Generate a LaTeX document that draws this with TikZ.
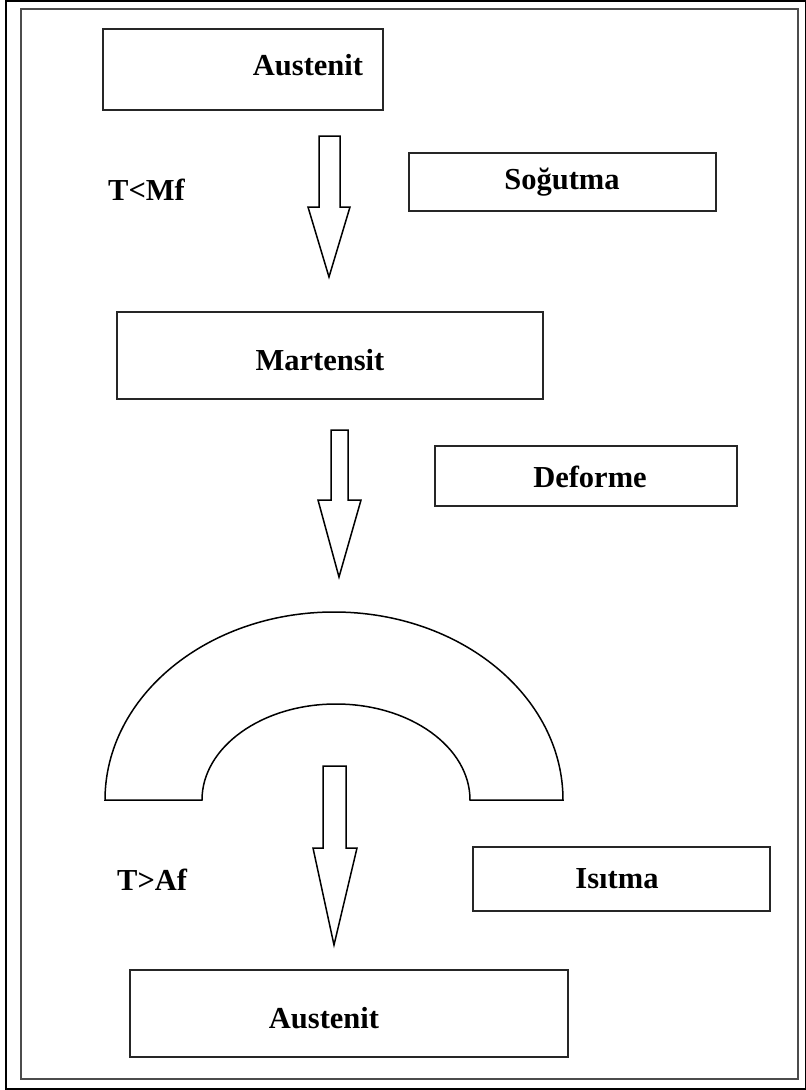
\documentclass[tikz,border=0pt]{standalone}
\usepackage{fontspec}
\setmainfont{Liberation Serif}
\begin{document}
\begin{tikzpicture}[x=1pt,y=-1pt]
\tikzset{
 boxn/.style={draw=black!85, line width=2pt, inner sep=0pt},
 lbl/.style={font=\fontsize{30.5}{36}\selectfont\bfseries, inner sep=0pt, anchor=base},
 blockarrow/.style={draw=black, line width=1.5pt, line join=miter},
 frameo/.style={draw=black, line width=1.5pt},
 framei/.style={draw=black!70, line width=2.5pt},
 archshape/.style={draw=black, line width=1.5pt},
}
\useasboundingbox (0,0) rectangle (806,1090);
\fill[white] (0,0) rectangle (806,1090);
\draw[frameo] (6,1) rectangle (805.5,1089);
\draw[framei] (21,9) rectangle (798,1079);

% boxes
\node[boxn, minimum width=280pt, minimum height=81pt] (aus1) at (243,69.5) {};
\node[lbl] (aus1t) at (308,75) {Austenit};
\node[boxn, minimum width=307pt, minimum height=58pt] (sog) at (562.5,182) {};
\node[lbl] (sogt) at (562,189) {Soğutma};
\node[boxn, minimum width=426pt, minimum height=87pt] (mar) at (330,355.5) {};
\node[lbl] (mart) at (320,370) {Martensit};
\node[boxn, minimum width=302pt, minimum height=60pt] (def) at (586,476) {};
\node[lbl] (deft) at (590,487) {Deforme};
\node[boxn, minimum width=297pt, minimum height=64pt] (isi) at (621.5,879) {};
\node[lbl] (isit) at (617,888) {Isıtma};
\node[boxn, minimum width=438pt, minimum height=87pt] (aus2) at (349,1013.5) {};
\node[lbl] (aus2t) at (324,1028) {Austenit};

\node[lbl, anchor=base west] (tmf) at (108,200) {T<Mf};
\node[lbl, anchor=base west] (taf) at (117,890) {T>Af};

% block arrows
\draw[blockarrow] (319,136) -- (340,136) -- (340,207) -- (350,207) -- (329,277) -- (308,207) -- (319,207) -- cycle;
\draw[blockarrow] (331,430) -- (348,430) -- (348,500) -- (361,500) -- (339,577) -- (318,500) -- (331,500) -- cycle;
\draw[blockarrow] (323,766) -- (346,766) -- (346,848) -- (357,848) -- (334,945) -- (313,848) -- (323,848) -- cycle;

% bent bar
\draw[archshape] (105,800) -- (202,800)
  arc[start angle=180, end angle=360, x radius=134, y radius=96]
  -- (563,800)
  arc[start angle=0, end angle=-180, x radius=229, y radius=188]
  -- cycle;
\end{tikzpicture}
\end{document}
